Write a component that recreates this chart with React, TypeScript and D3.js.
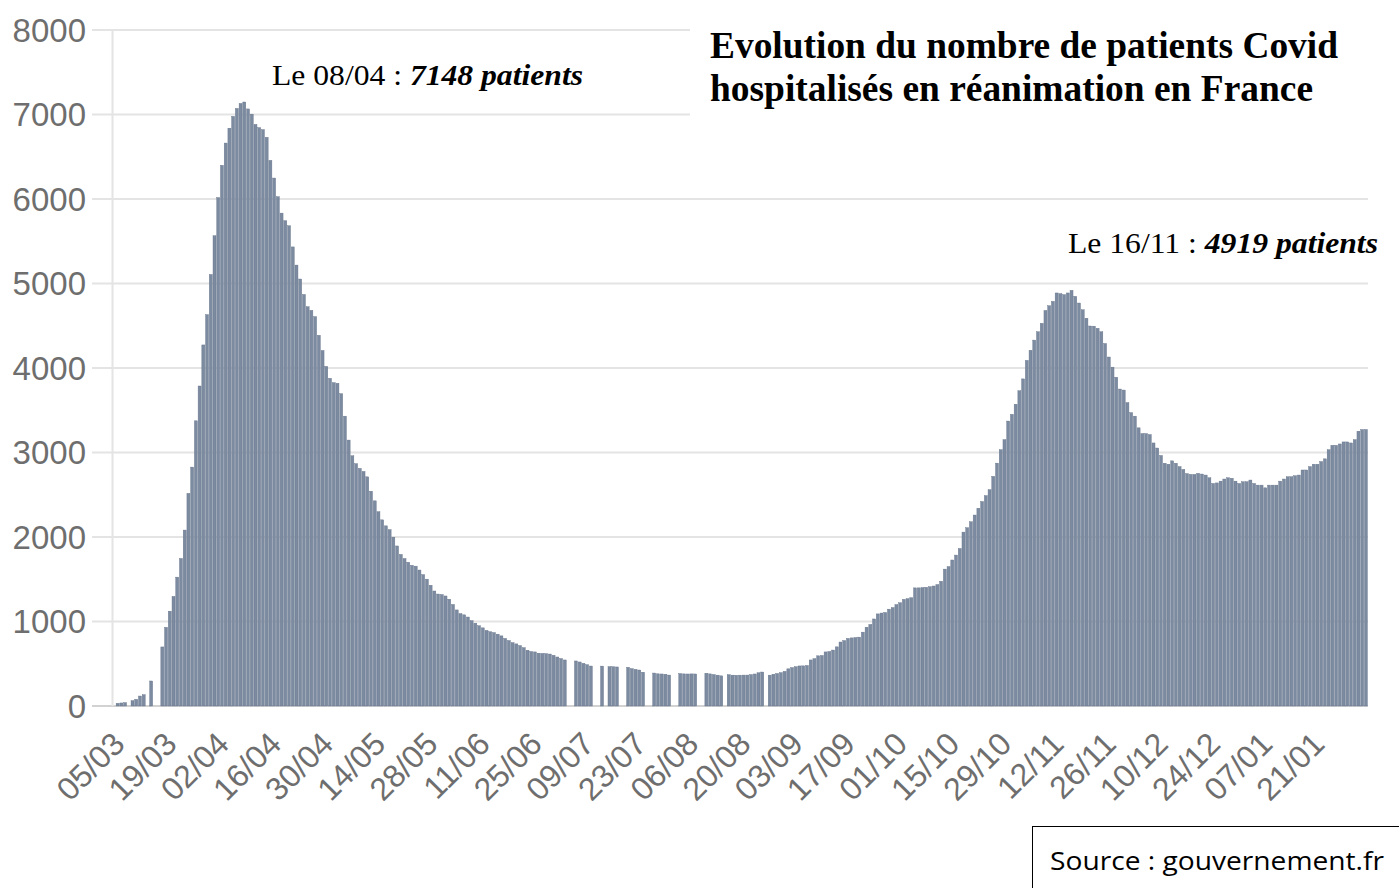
import React from "react";
import * as d3 from "d3";

// Daily number of Covid patients in intensive care (France), from 04/03/2020
const startDate = new Date(2020, 2, 4);
const march: (number | null)[] = [null, 32, 36, 40, null, 63, 79, 118, 134, null, 296, null, null, 699, 931, 1122, 1297, 1525, 1746, 2082, 2516, 2827, 3375, 3787, 4273, 4632, 5107, 5565];
const april: (number | null)[] = [6017, 6399, 6662, 6838, 6978, 7072, 7131, 7148, 7066, 7004, 6883, 6845, 6821, 6730, 6457, 6248, 6027, 5833, 5744, 5683, 5433, 5218, 5053, 4870, 4725, 4682, 4608, 4387, 4207, 4019];
const may: (number | null)[] = [3878, 3827, 3819, 3696, 3430, 3147, 2961, 2868, 2812, 2776, 2712, 2542, 2428, 2299, 2203, 2132, 2087, 1998, 1894, 1794, 1745, 1701, 1665, 1655, 1609, 1555, 1501, 1429, 1361, 1325, 1319];
const june: (number | null)[] = [1302, 1264, 1202, 1137, 1094, 1079, 1053, 1010, 980, 950, 925, 895, 879, 869, 850, 830, 800, 775, 750, 735, 715, 690, 660, 645, 640, 625, 622, 620, 615, 600];
const july: (number | null)[] = [580, 562, 545, null, null, 533, 521, 505, 489, 473, null, null, 472, null, 466, 465, 462, null, null, 458, 442, 434, 426, 400, null, null, 390, 381, 379, 376, 366];
const august: (number | null)[] = [null, null, 384, 380, 379, 380, 379, null, null, 388, 380, 372, 365, 357, null, 371, 365, 364, 365, 366, 366, 372, 379, 393, 402, null, 365, 376, 385, 395, 410];
const september: (number | null)[] = [440, 455, 465, 474, 475, 480, 545, 560, 594, 598, 640, 645, 662, 700, 757, 775, 800, 806, 810, 815, 874, 932, 965, 1030, 1090, 1100, 1107, 1146, 1165, 1200];
const october: (number | null)[] = [1222, 1262, 1270, 1282, 1398, 1398, 1402, 1405, 1412, 1420, 1437, 1476, 1620, 1650, 1728, 1786, 1864, 2058, 2110, 2180, 2260, 2340, 2420, 2490, 2560, 2718, 2874, 3033, 3152, 3372, 3452];
const november: (number | null)[] = [3571, 3731, 3871, 4090, 4210, 4330, 4429, 4529, 4681, 4737, 4789, 4888, 4880, 4868, 4888, 4919, 4848, 4769, 4689, 4589, 4497, 4495, 4470, 4429, 4290, 4130, 4010, 3891, 3751, 3739];
const december: (number | null)[] = [3591, 3472, 3430, 3292, 3224, 3224, 3212, 3113, 3053, 2965, 2873, 2861, 2901, 2873, 2833, 2800, 2750, 2741, 2741, 2753, 2745, 2733, 2701, 2634, 2640, 2661, 2686, 2701, 2695, 2661, 2634];
const january: (number | null)[] = [2654, 2654, 2674, 2634, 2614, 2614, 2582, 2614, 2614, 2614, 2661, 2686, 2713, 2713, 2725, 2733, 2793, 2793, 2833, 2861, 2861, 2893, 2925, 3033, 3085, 3085, 3101, 3125, 3125, 3113, 3152];
const february: (number | null)[] = [3252, 3272, 3272];

const yTicks = [0, 1000, 2000, 3000, 4000, 5000, 6000, 7000, 8000];
const xTickLabels = ["05/03", "19/03", "02/04", "16/04", "30/04", "14/05", "28/05", "11/06", "25/06", "09/07", "23/07", "06/08", "20/08", "03/09", "17/09", "01/10", "15/10", "29/10", "12/11", "26/11", "10/12", "24/12", "07/01", "21/01"];

const titleLines = ["Evolution du nombre de patients Covid", "hospitalisés en réanimation en France"];
const annotations = [
  { date: "08/04", value: "7148 patients" },
  { date: "16/11", value: "4919 patients" },
];
const sourceText = "Source : gouvernement.fr";

const values = [...march, ...april, ...may, ...june, ...july, ...august, ...september, ...october, ...november, ...december, ...january, ...february];
const fmt = d3.timeFormat("%d/%m");
const dates = values.map((_, i) => fmt(d3.timeDay.offset(startDate, i)));

export default function App() {
  const W = 1399, H = 888;
  const x = d3.scaleBand<number>().domain(d3.range(values.length)).range([112.4, 1367.4]).paddingInner(0.2);
  const y = d3.scaleLinear().domain([0, 8000]).range([706, 30]);
  const serif = "'Liberation Serif', 'Times New Roman', serif";
  const sans = "'Liberation Sans', Arial, sans-serif";
  const ann = [
    { ...annotations[0], x: 272, y: 85, w: 311 },
    { ...annotations[1], x: 1068, y: 253, w: 310 },
  ];
  const titleW = [628, 603];
  return (
    <div style={{ position: "absolute", left: 0, top: 0 }}>
      <svg width={W} height={H} style={{ display: "block", background: "#fff" }}>
        {yTicks.map((t) => (
          <line key={"g" + t} x1={92} x2={1368} y1={y(t)} y2={y(t)} stroke={t === 0 ? "#d2d2d2" : "#e4e4e4"} strokeWidth={2} />
        ))}
        <line x1={112.5} x2={112.5} y1={y(8000)} y2={y(0)} stroke="#e4e4e4" strokeWidth={2} />
        {yTicks.map((t) => (
          <text key={"yl" + t} x={86} y={y(t)} dy="0.36em" textAnchor="end" fontFamily={sans} fontSize={33} fill="#6e6e6e">
            {t}
          </text>
        ))}
        {values.map((v, i) =>
          v == null ? null : (
            <rect key={i} x={x(i)!} y={y(v)} width={x.bandwidth()} height={y(0) - y(v)} fill="#7d8ba1" stroke="#64738a" strokeWidth={0.4} />
          )
        )}
        {xTickLabels.map((lab) => {
          const i = dates.indexOf(lab);
          const cx = x(i)! + x.bandwidth() / 2;
          return (
            <text key={"xl" + lab} transform={`translate(${cx + 1},${738}) rotate(-45)`} textAnchor="end" dy="0.35em" fontFamily={sans} fontSize={32} fill="#6e6e6e">
              {lab}
            </text>
          );
        })}
        <rect x={690} y={0} width={W - 690} height={140} fill="#fff" />
        {titleLines.map((t, k) => (
          <text key={"t" + k} x={710} y={58 + k * 43} fontFamily={serif} fontWeight="bold" fontSize={37.5} fill="#000" textLength={titleW[k]} lengthAdjust="spacingAndGlyphs">
            {t}
          </text>
        ))}
        {ann.map((a) => (
          <text key={a.date} x={a.x} y={a.y} fontFamily={serif} fontSize={29} fill="#000" textLength={a.w} lengthAdjust="spacingAndGlyphs">
            <tspan>{`Le ${a.date} : `}</tspan>
            <tspan fontWeight="bold" fontStyle="italic">{a.value}</tspan>
          </text>
        ))}
        <rect x={1032.5} y={826.5} width={400} height={100} fill="#fff" stroke="#000" strokeWidth={1} />
        <text x={1050} y={870} fontFamily="'Open Sans', 'Noto Sans', sans-serif" fontSize={26} fill="#000" textLength={334} lengthAdjust="spacingAndGlyphs">
          {sourceText}
        </text>
      </svg>
    </div>
  );
}
